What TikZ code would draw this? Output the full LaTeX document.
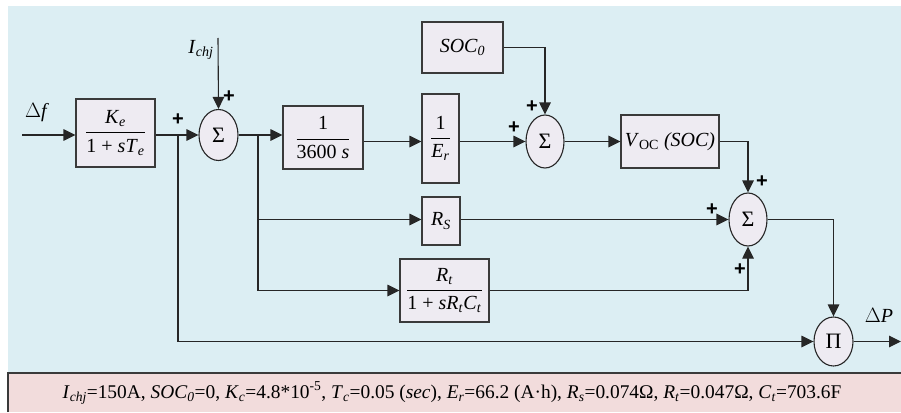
\documentclass[tikz,border=0pt]{standalone}
\usepackage{fontspec}
\setmainfont{Liberation Serif}
\setsansfont{Liberation Sans}
\usetikzlibrary{arrows.meta,shapes.geometric}
\definecolor{bgblue}{HTML}{DCEEF3}
\definecolor{bgpink}{HTML}{F2DCDC}
\definecolor{boxfill}{HTML}{EEEBF2}
\definecolor{edge}{HTML}{3A3A3A}
\definecolor{wire}{HTML}{262626}
\newcommand\sbi[1]{\textsubscript{\textit{#1}}}
\newcommand\frc[2]{$\displaystyle\frac{\mbox{#1}}{\mbox{#2}}$}
\begin{document}
\begin{tikzpicture}[x=1pt,y=-1pt,
  font=\fontsize{20}{23}\selectfont,
  blk/.style={draw=edge,fill=boxfill,line width=1.1pt,inner sep=0pt,align=center},
  sumnode/.style={ellipse,draw=wire,fill=boxfill,line width=1.1pt,inner sep=0pt,minimum width=39pt,minimum height=51pt,font=\fontsize{22}{24}\selectfont},
  arr/.style={draw=wire,line width=1.1pt,-{Triangle[length=12pt,width=11.5pt]}},
  pl/.style={font=\sffamily\bfseries\fontsize{20}{20}\selectfont,inner sep=0pt},
  lbl/.style={inner sep=0pt}]
\useasboundingbox (0,0) rectangle (901,412);
% backgrounds
\fill[bgblue] (8,6) rectangle (901,373);
\fill[bgpink] (8,373) rectangle (901,412);
\draw[edge,line width=1.2pt] (8,412) -- (8,373) -- (901,373);

% nodes
\coordinate (in) at (22,135);
\node[lbl] (df) at (37,113) {$\Delta$\textit{f}};
\node[blk,minimum width=79pt,minimum height=68pt] (ke) at (115.5,133) {\frc{\textit{K}\sbi{e}}{1 + \textit{sT}\sbi{e}}};
\node[sumnode] (s1) at (218.5,135) {Σ};
\coordinate (ichj) at (218,38);
\node[lbl] (ilbl) at (201,50) {\textit{I}\sbi{chj}};
\coordinate (j1) at (178,135);
\coordinate (j2) at (258,135);
\node[blk,minimum width=80pt,minimum height=63pt] (b3600) at (323,137.5) {\frc{1}{3600 \textit{s}}};
\node[blk,minimum width=37pt,minimum height=89pt] (er) at (440.5,138.5) {\frc{1}{\textit{E}\sbi{r}}};
\node[blk,minimum width=81pt,minimum height=51pt] (soc0) at (462.5,47.5) {\textit{SOC}\sbi{0}};
\node[sumnode,minimum width=38pt,minimum height=53pt] (s2) at (545,141.5) {Σ};
\node[blk,minimum width=98pt,minimum height=53pt] (voc) at (670,141.5) {\textit{V}\textsubscript{OC} \textit{(SOC)}};
\node[blk,minimum width=38pt,minimum height=48pt] (rs) at (441,221) {\textit{R}\sbi{S}};
\node[sumnode,minimum width=38pt,minimum height=53pt] (s3) at (748,219.5) {Σ};
\node[blk,minimum width=89pt,minimum height=63pt] (rt) at (444.5,290.5) {\frc{\textit{R}\sbi{t}}{1 + \textit{sR}\sbi{t}\textit{C}\sbi{t}}};
\node[sumnode,minimum width=39pt,minimum height=49pt] (pi) at (833.5,341.5) {Π};
\coordinate (out) at (901,341.5);
\node[lbl] (dp) at (879,315) {$\Delta$\textit{P}};

% plus signs
\node[pl] (p1) at (178,120) {+};
\node[pl] (p2) at (229,97) {+};
\node[pl] (p3) at (532,107) {+};
\node[pl] (p4) at (514,128) {+};
\node[pl] (p5) at (762,182) {+};
\node[pl] (p6) at (712,210) {+};
\node[pl] (p7) at (740,270) {+};

% connectors
\draw[arr] (in) -- (in -| ke.west);
\draw[arr] (ke.east |- s1) -- (s1.west);
\draw[arr] (ichj) -- (s1.north);
\draw[arr] (s1.east) -- (s1.east -| b3600.west);
\draw[arr] (b3600.east |- s2) -- (er.west |- s2);
\draw[arr] (er.east |- s2) -- (s2.west);
\draw[arr] (soc0.east) -| (s2.north);
\draw[arr] (s2.east) -- (voc.west);
\draw[arr] (voc.east) -| (s3.north);
\draw[arr] (j2) |- (rt.west);
\draw[arr] (j2 |- s3) -- (rs.west |- s3);
\draw[arr] (rs.east |- s3) -- (s3.west);
\draw[arr] (rt.east) -| (s3.south);
\draw[arr] (j1) |- (pi.west);
\draw[arr] (s3.east) -| (pi.north);
\draw[arr] (pi.east) -- (out);

% parameter line
\node[lbl,font=\fontsize{19.4}{22}\selectfont] (params) at (452,393) {\textit{I}\sbi{chj}=150A, \textit{SOC}\sbi{0}=0, \textit{K}\sbi{c}=4.8*10\textsuperscript{-5}, \textit{T}\sbi{c}=0.05 (\textit{sec}), \textit{E}\sbi{r}=66.2 (A·h), \textit{R}\sbi{s}=0.074Ω, \textit{R}\sbi{t}=0.047Ω, \textit{C}\sbi{t}=703.6F};
\end{tikzpicture}
\end{document}
